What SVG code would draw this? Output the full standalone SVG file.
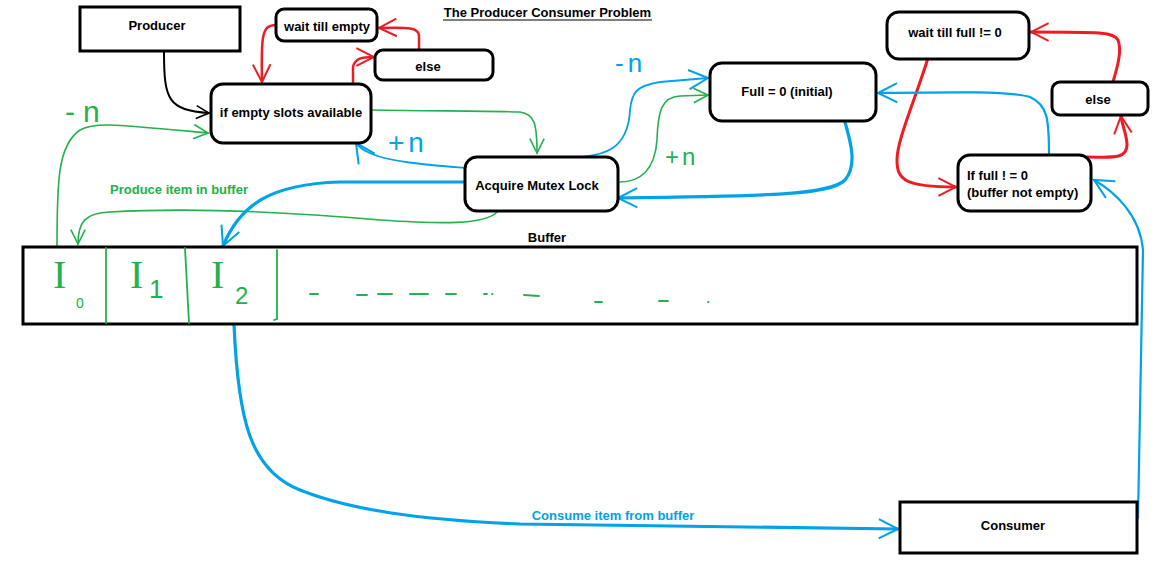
<svg xmlns="http://www.w3.org/2000/svg" width="1158" height="561" viewBox="0 0 1158 561">
<defs>
<style>
.box{fill:#fff;stroke:#000;stroke-width:3}
.lbl{font-family:"Liberation Sans",Arial,sans-serif;font-size:13px;font-weight:bold;fill:#000;text-anchor:middle}
.c{fill:none;stroke-width:2;stroke-linecap:round;stroke-linejoin:round}
.k{stroke:#000}
.r{stroke:#ed1c24;stroke-width:2.5}
.g{stroke:#22b14c;stroke-width:1.6}
.b{stroke:#00a2e8;stroke-width:1.8}
.bt{stroke:#00a2e8;stroke-width:3.2}
.hw{font-family:"Liberation Sans",Arial,sans-serif;font-weight:normal}
.cell{font-family:"Liberation Serif","Times New Roman",serif;fill:#22b14c}
</style>
<marker id="ak" viewBox="0 0 20 20" refX="18" refY="10" markerWidth="16" markerHeight="16" markerUnits="userSpaceOnUse" orient="auto"><path d="M2,2 L18,10 L2,18" fill="none" stroke="#000" stroke-width="2"/></marker>
<marker id="ar" viewBox="0 0 20 20" refX="18" refY="10" markerWidth="22" markerHeight="22" markerUnits="userSpaceOnUse" orient="auto"><path d="M2,2 L18,10 L2,18" fill="none" stroke="#ed1c24" stroke-width="1.8"/></marker>
<marker id="ag" viewBox="0 0 20 20" refX="18" refY="10" markerWidth="18" markerHeight="18" markerUnits="userSpaceOnUse" orient="auto"><path d="M2,2 L18,10 L2,18" fill="none" stroke="#22b14c" stroke-width="1.8"/></marker>
<marker id="ab" viewBox="0 0 20 20" refX="18" refY="10" markerWidth="24" markerHeight="24" markerUnits="userSpaceOnUse" orient="auto"><path d="M2,2 L18,10 L2,18" fill="none" stroke="#00a2e8" stroke-width="1.7"/></marker>
</defs>
<rect width="1158" height="561" fill="#fff"/>

<g id="title">
<text x="547.5" y="17" class="lbl">The Producer Consumer Problem</text>
<line x1="443" y1="20" x2="652" y2="20" stroke="#000" stroke-width="1.2"/>
</g>

<g id="connectors">
<path class="c k" d="M164,52 C164,100 168,110 209,113" marker-end="url(#ak)"/>
<path class="c r" d="M276,25 C262,25 261,35 262,82" marker-end="url(#ar)"/>
<path class="c r" d="M353,83 L353,67 C355,58 362,57 374,57" marker-end="url(#ar)"/>
<path class="c r" d="M419,50 L419,35 C418,28 410,27 379,28" marker-end="url(#ar)"/>
<path class="c r" style="stroke-width:3" d="M928,58 C915,100 897,140 897,160 C897,180 905,187 956,187" marker-end="url(#ar)"/>
<path class="c r" style="stroke-width:3" d="M1087,157 C1110,157 1127,160 1127,145 C1127,135 1122,125 1121,116" marker-end="url(#ar)"/>
<path class="c r" style="stroke-width:3" d="M1113,82 C1118,65 1122,50 1118,40 C1114,32 1100,32 1031,32" marker-end="url(#ar)"/>

<path class="c g" d="M371,110 C430,111 490,111 520,112 C535,114 537,125 537,153" marker-end="url(#ag)"/>
<path class="c g" d="M620,182 C640,182 655,170 657,140 C658,110 662,97 680,96 L708,95" marker-end="url(#ag)"/>
<path class="c g" d="M497,212 C485,225 440,224 380,220 C300,213 200,207 110,212 C85,213 78,222 78,244" marker-end="url(#ag)"/>
<path class="c g" d="M57,246 C57,180 58,145 80,130 C95,122 110,124 208,133" marker-end="url(#ag)"/>

<path class="c b" d="M465,168 C430,165 390,162 372,154 C362,150 358,146 356,143" marker-end="url(#ab)"/>
<path class="c bt" d="M465,182 L340,182 C270,184 240,205 223,246" marker-end="url(#ab)"/>
<path class="c b" d="M583,157 C600,155 628,152 630,110 C632,92 636,86 660,82 L708,78" marker-end="url(#ab)"/>
<path class="c bt" d="M845,122 C850,140 858,165 845,180 C830,195 770,196 618,198" marker-end="url(#ab)"/>
<path class="c b" style="stroke-width:2.2" d="M1049,155 C1049,120 1048,105 1030,97 C1010,91 950,92 878,93" marker-end="url(#ab)"/>
<path class="c b" style="stroke-width:2.2" d="M1138,518 L1143,250 C1140,215 1115,192 1094,180" marker-end="url(#ab)"/>
<path class="c bt" d="M234,324 C238,420 250,470 300,490 C350,510 420,520 520,524 L898,529" marker-end="url(#ab)"/>

<text x="65" y="122" class="hw" font-size="30" letter-spacing="8" fill="#22b14c">-n</text>
<text x="388" y="152" class="hw" font-size="28" letter-spacing="4" fill="#00a2e8">+n</text>
<text x="615" y="72" class="hw" font-size="26" letter-spacing="4" fill="#00a2e8">-n</text>
<text x="665" y="165" class="hw" font-size="24" letter-spacing="3" fill="#22b14c">+n</text>
<text x="179" y="194" class="lbl" style="fill:#22b14c">Produce item in buffer</text>
<text x="613" y="520" class="lbl" style="fill:#00a2e8">Consume item from buffer</text>
</g>

<g id="producer"><rect class="box" x="80" y="7" width="160" height="44"/><text x="157" y="30" class="lbl">Producer</text></g>
<g id="wait-empty"><rect class="box" x="276" y="9" width="101" height="32" rx="8"/><text x="327" y="31" class="lbl">wait till empty</text></g>
<g id="else-left"><rect class="box" x="375" y="50" width="118" height="30" rx="8"/><text x="428" y="71" class="lbl">else</text></g>
<g id="if-empty"><rect class="box" x="211" y="84" width="160" height="59" rx="12"/><text x="291" y="117" class="lbl">if empty slots available</text></g>
<g id="mutex"><rect class="box" x="465" y="157" width="153" height="54" rx="12"/><text x="537" y="190" class="lbl">Acquire Mutex Lock</text></g>
<g id="full"><rect class="box" x="710" y="63" width="166" height="58" rx="12"/><text x="787" y="96" class="lbl">Full = 0 (initial)</text></g>
<g id="wait-full"><rect class="box" x="887" y="12" width="142" height="47" rx="12"/><text x="955" y="37" class="lbl">wait till full != 0</text></g>
<g id="else-right"><rect class="box" x="1052" y="82" width="96" height="33" rx="8"/><text x="1098" y="104" class="lbl">else</text></g>
<g id="if-full"><rect class="box" x="958" y="155" width="133" height="56" rx="12"/>
<text x="967" y="180" class="lbl" style="text-anchor:start">If full ! = 0</text>
<text x="967" y="197" class="lbl" style="text-anchor:start">(buffer not empty)</text></g>
<g id="consumer"><rect class="box" x="900" y="502" width="237" height="51"/><text x="1013" y="530" class="lbl">Consumer</text></g>

<g id="buffer">
<text x="547" y="242" class="lbl">Buffer</text>
<rect class="box" x="23" y="247" width="1114" height="77"/>
<g stroke="#22b14c" stroke-width="1.8" fill="none" stroke-linecap="round">
<line x1="106" y1="248" x2="106" y2="323"/>
<line x1="185" y1="248" x2="189" y2="323"/>
<path d="M277,250 L277,319 L274,320"/>
<line x1="310" y1="294" x2="318" y2="294"/>
<line x1="357" y1="295" x2="367" y2="295"/>
<line x1="378" y1="294" x2="392" y2="294"/>
<line x1="410" y1="294" x2="428" y2="294"/>
<line x1="446" y1="294" x2="456" y2="294"/>
<line x1="484" y1="294" x2="487" y2="294"/>
<line x1="492" y1="294" x2="492.5" y2="294"/>
<line x1="524" y1="295" x2="539" y2="296"/>
<line x1="595" y1="302" x2="602" y2="302"/>
<line x1="659" y1="301" x2="668" y2="301"/>
<line x1="708" y1="302" x2="708.5" y2="302"/>
</g>
<text x="53" y="288" class="cell" font-size="40">I</text>
<text x="76" y="308" class="hw" font-size="14" fill="#22b14c">0</text>
<text x="130" y="288" class="cell" font-size="40">I</text>
<text x="149" y="298" class="hw" font-size="26" fill="#22b14c">1</text>
<text x="211" y="288" class="cell" font-size="40">I</text>
<text x="235" y="304" class="hw" font-size="24" fill="#22b14c">2</text>
</g>
</svg>
